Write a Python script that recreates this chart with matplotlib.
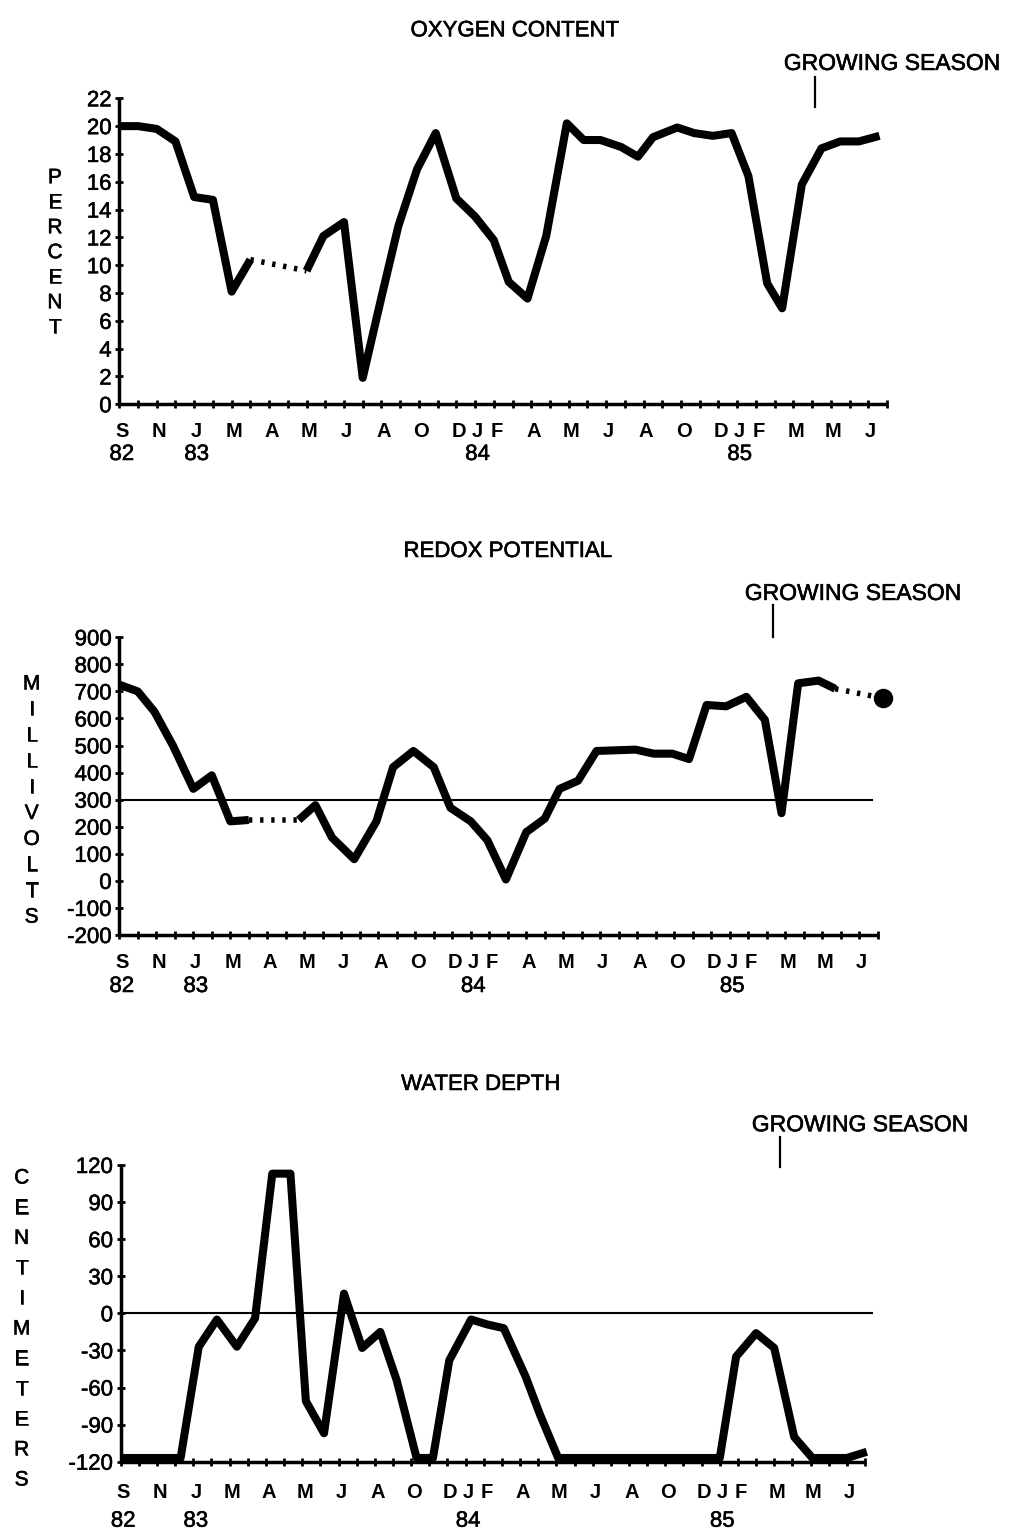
import matplotlib
matplotlib.use("Agg")
import matplotlib.pyplot as plt
from matplotlib.lines import Line2D
import matplotlib.patheffects as pe

plt.rcParams['font.family'] = ['Liberation Sans', 'DejaVu Sans']

W, H = 1009, 1533

# Time axis: one tick per sampling step, month initials under selected ticks
month_ticks = [0, 2, 4, 6, 8, 10, 12, 14, 16, 18, 19, 20, 22, 24, 26, 28, 30, 32, 33, 34, 36, 38, 40]
month_labels = ['S', 'N', 'J', 'M', 'A', 'M', 'J', 'A', 'O', 'D', 'J', 'F',
                'A', 'M', 'J', 'A', 'O', 'D', 'J', 'F', 'M', 'M', 'J']
year_ticks = [0, 4, 19, 33]
year_labels = ['82', '83', '84', '85']
n_steps = 41

# Oxygen content (percent)
oxy_t = [0, 1, 2, 3, 4, 5, 6, 7, 10, 10.9, 12, 13, 14, 14.9, 15.9, 16.9, 18, 19, 20,
         20.8, 21.8, 22.8, 23.9, 24.8, 25.7, 26.8, 27.7, 28.5, 29.8, 30.7, 31.7,
         32.7, 33.6, 34.6, 35.4, 36.45, 37.5, 38.5, 39.5, 40.6]
oxy_pct = [20, 20, 19.8, 18.9, 14.9, 14.7, 8.1, 10.4, 9.6, 12.1, 13.1, 1.9, 7.7, 12.8,
           16.9, 19.5, 14.8, 13.5, 11.8, 8.8, 7.6, 12.1, 20.2, 19.0, 19.0, 18.5,
           17.8, 19.2, 19.9, 19.5, 19.3, 19.5, 16.4, 8.7, 6.9, 15.8, 18.4, 18.9,
           18.9, 19.3]
oxy_dotted_after = [7]

# Redox potential (millivolts)
rdx_t = [0, 1, 1.9, 2.9, 4, 5, 6, 7, 9.7, 10.6, 11.5, 12.7, 13.9, 14.8, 15.9, 17,
         17.9, 19, 19.9, 20.9, 22, 23, 23.8, 24.8, 25.8, 27.9, 28.9, 29.9, 30.8,
         31.75, 32.8, 33.9, 34.9, 35.8, 36.7, 37.8, 38.7, 41.3]
rdx_mv = [725, 700, 625, 500, 340, 390, 220, 225, 225, 280, 160, 80, 220, 420, 480,
          420, 270, 220, 150, 5, 180, 230, 340, 370, 480, 485, 470, 470, 450, 650,
          645, 680, 595, 250, 730, 740, 710, 675]
rdx_dotted_after = [7, 36]
rdx_ref = 300

# Water depth (centimeters)
wd_t = [0, 3.3, 4.3, 5.3, 6.4, 7.4, 8.35, 9.35, 10.2, 11.2, 12.3, 13.3, 14.3, 15.2,
        16.3, 17.2, 18.1, 19.3, 20.2, 21.1, 22.3, 23.1, 24.1, 33.0, 33.9, 35.0,
        36.0, 37.1, 38.1, 40.0, 41.1]
wd_cm = [-117, -117, -27, -5, -27, -4, 113, 113, -71, -97, 16, -28, -15, -54, -117,
         -117, -38, -5, -9, -12, -51, -82, -117, -117, -35, -16, -28, -100, -117,
         -117, -112]
wd_ref = 0

LW = 5.8
SPINE_LW = 2.5
PX = 72.0 / 100.0  # points per pixel
HEAVY = [pe.withStroke(linewidth=0.4, foreground='black')]


def add_panel(left, right, top, bottom):
    return fig.add_axes([left / W, 1 - bottom / H, (right - left) / W, (bottom - top) / H])


def style_axes(ax, ylim, yticks, month_base, year_base):
    ax.set_xlim(0, n_steps)
    ax.set_ylim(*ylim)
    for side in ('top', 'right'):
        ax.spines[side].set_visible(False)
    for side in ('left', 'bottom'):
        ax.spines[side].set_linewidth(SPINE_LW)
        ax.spines[side].set_capstyle('butt')
    ax.set_yticks(yticks)
    ax.set_yticklabels([str(v) for v in yticks])
    for lab in ax.get_yticklabels():
        lab.set_path_effects(HEAVY)
    ax.set_xticks(range(n_steps + 1))
    ax.set_xticklabels([])
    ax.tick_params(axis='y', direction='inout', length=6, width=2, pad=2.5,
                   labelsize=16)
    ax.tick_params(axis='x', direction='inout', length=6, width=2)
    for t, s in zip(month_ticks, month_labels):
        ax.annotate(s, xy=(t, 0), xycoords=('data', 'axes fraction'),
                    xytext=(2.5 * PX, -month_base * PX), textcoords='offset points',
                    ha='center', va='baseline', fontsize=14.5, fontweight='bold')
    for t, s in zip(year_ticks, year_labels):
        ax.annotate(s, xy=(t, 0), xycoords=('data', 'axes fraction'),
                    xytext=(2.5 * PX, -year_base * PX), textcoords='offset points',
                    ha='center', va='baseline', fontsize=16, path_effects=HEAVY)


def draw_series(ax, t, v, dotted_after):
    n = len(t)
    starts = [0] + [b + 1 for b in dotted_after]
    ends = list(dotted_after) + [n - 1]
    for s, e in zip(starts, ends):
        if e > s:
            ax.plot(t[s:e + 1], v[s:e + 1], color='black', lw=LW,
                    solid_joinstyle='round', solid_capstyle='butt', clip_on=False)
    for b in dotted_after:
        ax.plot(t[b:b + 2], v[b:b + 2], color='black', lw=4, clip_on=False,
                linestyle=(0, (0.6, 1.4)), dash_capstyle='butt')


def fig_text(x, y_center, s, size, weight='normal'):
    cap = 0.72 * size / PX
    fig.text(x / W, 1 - (y_center + cap / 2) / H, s, ha='center', va='baseline',
             fontsize=size, fontweight=weight, path_effects=HEAVY)


def stacked_label(x, y_first, step, word):
    for i, ch in enumerate(word):
        fig_text(x, y_first + i * step, ch, 15)


def season_marker(text_x, text_y, line_x, y0, y1):
    fig_text(text_x, text_y, 'GROWING SEASON', 16.5)
    fig.add_artist(Line2D([line_x / W, line_x / W], [1 - y0 / H, 1 - y1 / H],
                          color='black', lw=1.6, transform=fig.transFigure))


fig = plt.figure(figsize=(W / 100, H / 100), dpi=100)

# Oxygen content
ax1 = add_panel(119.3, 887, 98.3, 404.3)
style_axes(ax1, (0, 22), list(range(0, 23, 2)), 33, 55.7)
draw_series(ax1, oxy_t, oxy_pct, oxy_dotted_after)
fig_text(515, 28.3, 'OXYGEN CONTENT', 16)
stacked_label(55, 175.7, 25.0, 'PERCENT')
season_marker(892, 61.7, 815, 77, 107)

# Redox potential
ax2 = add_panel(119.3, 877.7, 637.3, 935)
style_axes(ax2, (-200, 900), list(range(-200, 901, 100)), 33, 57)
ax2.plot([0, 40.7], [rdx_ref, rdx_ref], color='black', lw=1.5, clip_on=False)
draw_series(ax2, rdx_t, rdx_mv, rdx_dotted_after)
ax2.plot(rdx_t[-1:], rdx_mv[-1:], 'o', color='black', ms=13, clip_on=False)
fig_text(508, 549, 'REDOX POTENTIAL', 16)
stacked_label(31.7, 682, 25.9, 'MILLIVOLTS')
season_marker(853, 591.7, 773, 605, 637)

# Water depth
ax3 = add_panel(120.7, 865, 1165, 1461.7)
style_axes(ax3, (-120, 120), list(range(-120, 121, 30)), 36.3, 65)
ax3.plot([0, 41.4], [wd_ref, wd_ref], color='black', lw=1.5, clip_on=False)
draw_series(ax3, wd_t, wd_cm, [])
fig_text(481, 1082, 'WATER DEPTH', 16)
stacked_label(21.7, 1176, 30.2, 'CENTIMETERS')
season_marker(860, 1123, 780, 1137, 1167)

fig.savefig('out.png', dpi=100, facecolor='white')
